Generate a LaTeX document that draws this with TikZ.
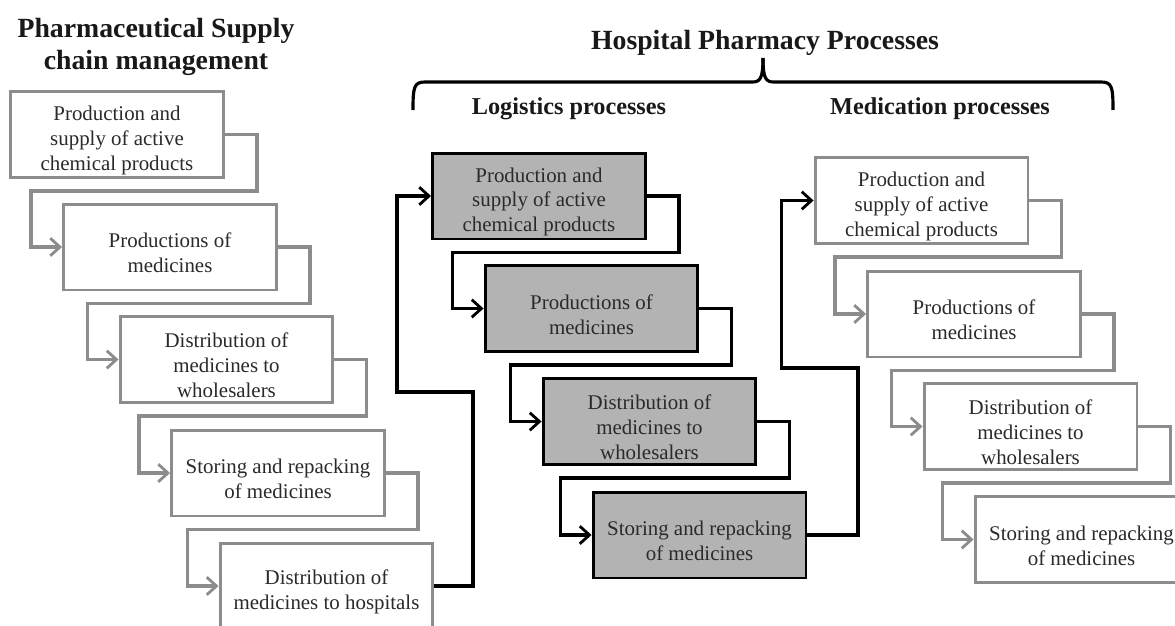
\documentclass[tikz,border=0pt]{standalone}
\usepackage{fontspec}
\setmainfont{Liberation Serif}
\usetikzlibrary{arrows.meta,calc}
\definecolor{lg}{HTML}{8C8C8C}
\definecolor{mf}{HTML}{B3B3B3}
\definecolor{tx}{HTML}{2A2A2A}
\newcommand\tp{\rule{0pt}{15pt}}
\tikzset{
 wbox/.style={draw=lg, fill=white, line width=1.7pt, minimum width=4.26cm, minimum height=1.72cm, inner sep=0pt, align=center, font=\fontsize{11.9}{14.2}\selectfont, text=tx},
 gbox/.style={wbox, draw=black, fill=mf},
 gline/.style={draw=lg, line width=1.9pt, -{Straight Barb[length=5.5pt,width=10pt,line width=1.6pt]}},
 bline/.style={gline, draw=black, line width=2.1pt},
 ttl/.style={font=\fontsize{15.8}{18.1}\selectfont\bfseries, align=center, text=black!90},
 subttl/.style={font=\fontsize{13.8}{16}\selectfont\bfseries, text=black!90},
 brace/.style={draw=black, line width=1.8pt}
}
\newcommand\myconn[3]{\draw[#1] (#2.east) -| ($(#2.south east)+(32,12)$) -| ($(#3.west)+(-31,0)$) -- (#3.west);}
\begin{document}
\begin{tikzpicture}[x=0.02cm,y=-0.02cm]
\clip (0,0) rectangle (1175,625);
\fill[white] (0,0) rectangle (1175,625);
% titles
\node[ttl] (t1) at (156,47) {Pharmaceutical Supply\\chain management};
\node[ttl] (t2) at (765,43) {Hospital Pharmacy Processes};
\node[subttl] (t3) at (569,109) {Logistics processes};
\node[subttl] (t4) at (940,109) {Medication processes};
% brace
\draw[brace] (413,110) .. controls (413,87) and (414,82) .. (425,82) -- (752,82) .. controls (760,82) and (763,79) .. (763,58);
\draw[brace] (763,58) .. controls (763,79) and (766,82) .. (774,82) -- (1101,82) .. controls (1112,82) and (1113,87) .. (1113,110);
% left column
\node[wbox] (L1) at (117,134.5) {\tp Production and\\supply of active\\chemical products};
\node[wbox] (L2) at (170,247) {\tp Productions of\\medicines};
\node[wbox] (L3) at (226.5,359.5) {\tp Distribution of\\medicines to\\wholesalers};
\node[wbox] (L4) at (278,473) {\tp Storing and repacking\\of medicines};
\node[wbox] (L5) at (326.5,586) {\tp Distribution of\\medicines to hospitals};
% middle column
\node[gbox] (M1) at (539,196) {\tp Production and\\supply of active\\chemical products};
\node[gbox] (M2) at (591.5,308.5) {\tp Productions of\\medicines};
\node[gbox] (M3) at (649.5,421.5) {\tp Distribution of\\medicines to\\wholesalers};
\node[gbox] (M4) at (699.5,535) {\tp Storing and repacking\\of medicines};
% right column
\node[wbox] (R1) at (921.5,200.5) {\tp Production and\\supply of active\\chemical products};
\node[wbox] (R2) at (974,314) {\tp Productions of\\medicines};
\node[wbox] (R3) at (1030.5,426.5) {\tp Distribution of\\medicines to\\wholesalers};
\node[wbox] (R4) at (1081.5,539.5) {\tp Storing and repacking\\of medicines};
% connectors
\myconn{gline}{L1}{L2}
\myconn{gline}{L2}{L3}
\myconn{gline}{L3}{L4}
\myconn{gline}{L4}{L5}
\myconn{bline}{M1}{M2}
\myconn{bline}{M2}{M3}
\myconn{bline}{M3}{M4}
\myconn{gline}{R1}{R2}
\myconn{gline}{R2}{R3}
\myconn{gline}{R3}{R4}
\draw[bline] (L5.east) -| (473,392) -| ($(M1.west)+(-34,0)$) -- (M1.west);
\draw[bline] (M4.east) -| (858,368) -| ($(R1.west)+(-32,0)$) -- (R1.west);
\end{tikzpicture}
\end{document}
